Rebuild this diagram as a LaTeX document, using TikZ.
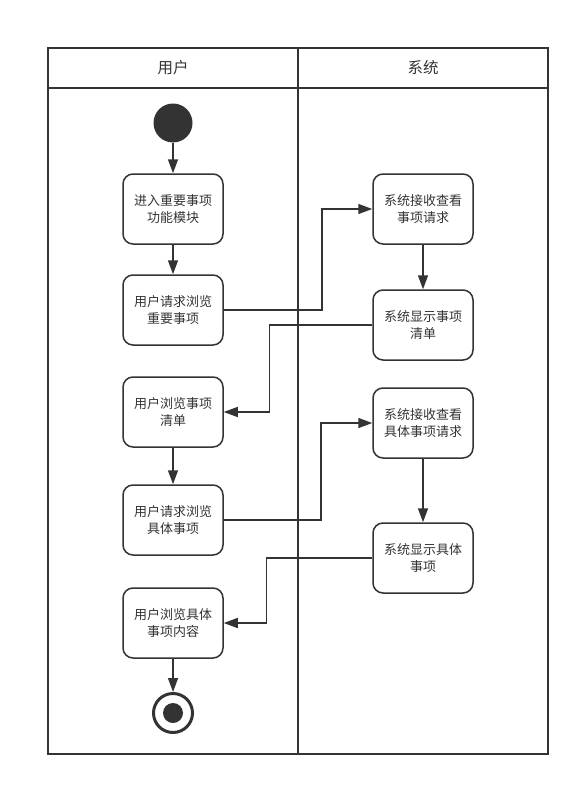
\documentclass[tikz,border=0pt]{standalone}
\usepackage{fontspec}
\newfontfamily\cjk{Noto Sans CJK SC}
\usetikzlibrary{arrows.meta}
\definecolor{ink}{HTML}{333333}
\begin{document}
\begin{tikzpicture}[x=1pt,y=-1pt,line width=1.5pt,color=ink,
	act/.style={draw,rounded corners=10pt,minimum width=100pt,minimum height=70pt,inner sep=2pt,align=center,font=\cjk\fontsize{13}{17}\selectfont},
	lane/.style={font=\cjk\fontsize{15.5}{17}\selectfont},
	flow/.style={-{Triangle[length=14pt,width=10pt]}}]
\useasboundingbox (0,0) rectangle (580,787);
% swimlanes
\draw[line width=2pt] (48,48) rectangle (548,754);
\draw[line width=2pt] (48,88)--(548,88) (298,48)--(298,754);
\node[lane,name=lane1] at (173,68){用户};
\node[lane,name=lane2] at (423,68){系统};
% start and end
\node[circle,fill,minimum size=39pt,inner sep=0pt,name=start] at (173,123){};
\node[circle,draw,line width=3pt,minimum size=39pt,inner sep=0pt,name=stop] at (173,713){};
\fill (stop) circle (10);
% activities
\foreach \n/\y/\t in {1/209/{进入重要事项\\功能模块},2/310/{用户请求浏览\\重要事项},3/412/{用户浏览事项\\清单},4/520/{用户请求浏览\\具体事项},5/623/{用户浏览具体\\事项内容}}{
	\node[act,name=u\n] at (173,\y){\t};
};
\foreach \n/\y/\t in {1/209/{系统接收查看\\事项请求},2/325/{系统显示事项\\清单},3/423/{系统接收查看\\具体事项请求},4/558/{系统显示具体\\事项}}{
	\node[act,name=s\n] at (423,\y){\t};
};
\foreach \a/\b in {start/u1,u1/u2,u3/u4,u5/stop,s1/s2,s3/s4}{
	\draw[flow] (\a)--(\b);
};
\draw[flow] (u2.east) -- ++(98,0) |- (s1.west);
\draw[flow] (s2.west) -- ++(-103,0) |- (u3.east);
\draw[flow] (u4.east) -- ++(97,0) |- (s3.west);
\draw[flow] (s4.west) -- ++(-106,0) |- (u5.east);
\end{tikzpicture}
\end{document}
